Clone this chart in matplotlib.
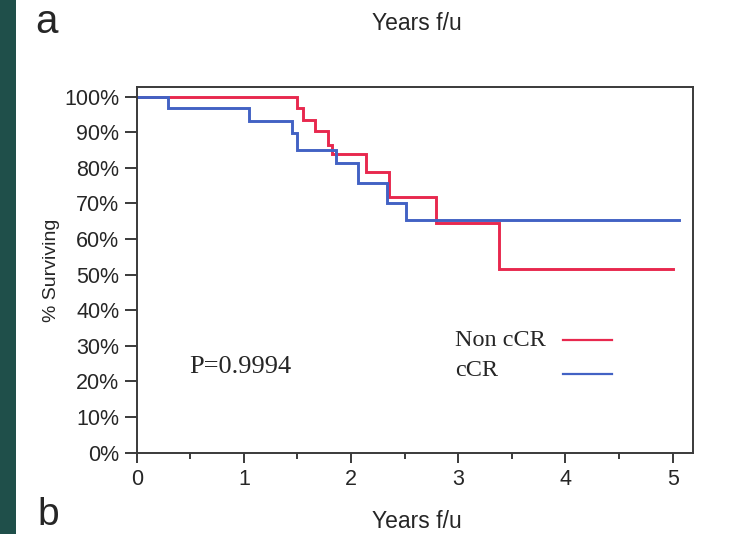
import matplotlib
matplotlib.use("Agg")
import matplotlib.pyplot as plt
from matplotlib.patches import Rectangle
from matplotlib.lines import Line2D

# ---- data (Kaplan-Meier step curves) ----
noncr_t = [0.0, 1.493, 1.548, 1.663, 1.787, 1.819, 2.139, 2.356, 2.792, 3.38, 5.006]
noncr_s = [100.0, 96.9, 93.5, 90.2, 86.5, 84.0, 78.9, 71.7, 64.4, 51.6, 51.6]
ccr_t = [0.0, 0.295, 1.048, 1.446, 1.493, 1.856, 2.062, 2.332, 2.512, 5.06]
ccr_s = [100.0, 96.8, 93.0, 89.7, 85.0, 81.3, 75.8, 70.2, 65.2, 65.2]
series_labels = ["Non cCR", "cCR"]
x_ticks = [0, 1, 2, 3, 4, 5]
y_ticks = [0, 10, 20, 30, 40, 50, 60, 70, 80, 90, 100]
y_ticklabels = [f"{v}%" for v in y_ticks]
p_text = "P=0.9994"

RED = "#e8284e"
BLUE = "#4262c4"
TXT = "#262626"
AX = "#3a3a3a"
SANS = ["Liberation Sans", "DejaVu Sans"]
SERIF = ["Liberation Serif", "DejaVu Serif"]

W, H = 730, 534
fig = plt.figure(figsize=(W / 100, H / 100), dpi=100)
fig.patch.set_facecolor("white")

# dark side strip
fig.patches.append(Rectangle((0, 0), 16 / W, 1, transform=fig.transFigure,
                             facecolor="#1f4f4a", edgecolor="none", zorder=0))

left, right = 136.7 / W, 693 / W
bottom, top = (H - 452.7) / H, (H - 87.3) / H
ax = fig.add_axes([left, bottom, right - left, top - bottom])

ax.step(noncr_t, noncr_s, where="post", color=RED, lw=2.1, solid_joinstyle="miter")
ax.step(ccr_t, ccr_s, where="post", color=BLUE, lw=2.1, solid_joinstyle="miter")

ax.set_xlim(0, 5.19)
ax.set_ylim(0, 102.6)
ax.set_xticks(x_ticks)
ax.set_xticks([t + 0.5 for t in x_ticks[:-1]], minor=True)
ax.set_yticks(y_ticks)
ax.set_yticklabels(y_ticklabels)

for s in ax.spines.values():
    s.set_color(AX)
    s.set_linewidth(1.4)

ax.tick_params(axis="y", which="major", length=9, width=1.4, color=AX, pad=3.5,
               labelsize=15.5, labelcolor=TXT)
ax.tick_params(axis="x", which="major", length=7.5, width=1.4, color=AX, pad=4,
               labelsize=15.5, labelcolor=TXT)
ax.tick_params(axis="x", which="minor", length=4.5, width=1.4, color=AX)
for lab in ax.get_xticklabels() + ax.get_yticklabels():
    lab.set_family(SANS)

ax.set_ylabel("% Surviving", fontsize=14, color=TXT, family=SANS, labelpad=3)

# p-value
fig.text(189 / W, (H - 367) / H, p_text, ha="left", va="center",
         fontsize=19, color=TXT, family=SERIF)

# legend (text left, line right)
leg_rows = [(340, RED, 340), (370, BLUE, 374)]
for lbl, (ty, col, ly) in zip(series_labels, leg_rows):
    fig.text(455 / W, (H - ty) / H, lbl, ha="left", va="center", fontsize=17.5, color=TXT,
             family=SERIF)
    fig.add_artist(Line2D([563 / W, 612 / W], [(H - ly) / H] * 2, transform=fig.transFigure,
                          color=col, lw=1.6))

# panel letters and neighbouring axis titles
fig.text(35 / W, (H - 33) / H, "a", ha="left", va="baseline", fontsize=29, color=TXT,
         family=SANS)
fig.text(37 / W, 1 / H, "b", ha="left", va="bottom", fontsize=28, color=TXT,
         family=SANS)
fig.text(417 / W, (H - 30) / H, "Years f/u", ha="center", va="baseline", fontsize=16.5,
         color=TXT, family=SANS)
fig.text(417 / W, 1 / H, "Years f/u", ha="center", va="bottom", fontsize=16.5,
         color=TXT, family=SANS)

fig.savefig("out.png", dpi=100, facecolor="white")
